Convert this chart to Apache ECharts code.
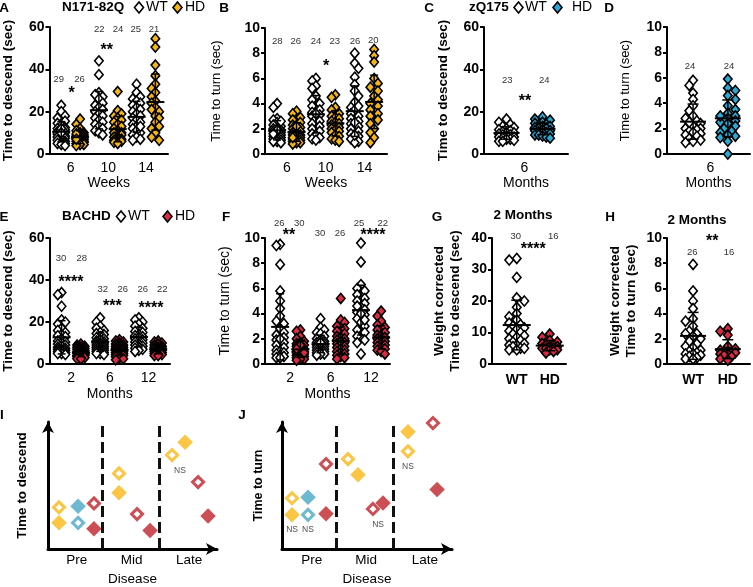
<!DOCTYPE html>
<html><head><meta charset="utf-8">
<script src="https://cdn.jsdelivr.net/npm/echarts@6/dist/echarts.min.js"></script>
<style>html,body{margin:0;padding:0;background:#fff}#c{width:753px;height:587px}</style>
</head><body><div id="c"></div>
<script>
// ---------------- DATA ----------------
// Panel A: N171-82Q, time to descend (sec), weeks 6/10/14
const a_weeks = ['6', '10', '14'];
const a_wt_6  = [23, 20, 18, 17, 15.5, 14.5, 13.5, 12.5, 12, 11.5, 11, 10.5, 10, 9.5, 9, 8.5, 8, 8, 7.5, 7, 6.5, 6, 5.5, 5, 5, 4.5, 4, 12, 10];
const a_hd_6  = [16.5, 14, 12, 11, 10, 10, 9, 9, 8.5, 8, 8, 7.5, 7, 7, 6.5, 6, 6, 5.5, 5.5, 5, 5, 4.5, 4.5, 4, 9.5, 7];
const a_wt_10 = [44, 37.5, 29, 28, 27, 26, 24, 23, 22, 21, 20, 19, 18, 17, 16, 15, 14, 13, 12, 11, 10, 9];
const a_hd_10 = [29.5, 20.5, 19, 18, 17, 16, 15, 14, 13, 12, 11, 10, 10, 9, 9, 8, 8, 7, 7, 6.5, 6, 6, 5.5, 5];
const a_wt_14 = [33, 29, 27, 26, 25, 24, 23, 22, 21, 20, 19, 18, 17, 16, 15, 14, 13, 12, 11, 10, 9, 8, 7, 6.5, 13];
const a_hd_14 = [54.5, 50.5, 42, 37, 33, 31, 29, 27, 25, 24, 22, 21, 20, 18, 17, 15, 13, 12, 10, 8, 6.5];
const a_n = [29, 26, 22, 24, 25, 21];
const a_stars = ['*', '**'];

// Panel B: N171-82Q, time to turn (sec)
const b_wt_6  = [4.0, 3.7, 2.8, 2.7, 2.5, 2.3, 2.2, 2.0, 2.0, 1.9, 1.8, 1.8, 1.7, 1.6, 1.5, 1.5, 1.4, 1.4, 1.3, 1.2, 1.2, 1.1, 1.0, 1.0, 0.9, 2.6, 1.9, 1.6];
const b_hd_6  = [3.4, 3.2, 2.9, 2.7, 2.5, 2.3, 2.1, 2.0, 1.9, 1.8, 1.7, 1.6, 1.5, 1.4, 1.3, 1.2, 1.2, 1.1, 1.0, 1.0, 0.9, 0.9, 0.8, 2.2, 1.5, 1.3];
const b_wt_10 = [6.0, 5.8, 5.4, 5.2, 4.6, 4.3, 4.0, 3.8, 3.5, 3.3, 3.1, 3.0, 2.8, 2.6, 2.4, 2.2, 2.0, 1.8, 1.6, 1.5, 1.3, 1.2, 1.1, 3.2];
const b_hd_10 = [4.7, 4.5, 3.7, 3.5, 3.2, 3.0, 2.9, 2.8, 2.6, 2.5, 2.4, 2.3, 2.2, 2.1, 2.0, 1.9, 1.8, 1.7, 1.5, 1.4, 1.2, 1.1, 1.0];
const b_wt_14 = [8.0, 7.2, 6.8, 6.1, 5.5, 5.0, 4.6, 4.1, 3.7, 3.5, 3.2, 3.0, 2.8, 2.6, 2.4, 2.2, 2.0, 1.8, 1.6, 1.4, 1.2, 1.0, 0.9, 3.8, 2.5, 1.5];
const b_hd_14 = [8.3, 7.8, 7.3, 6.0, 5.6, 5.3, 5.0, 4.6, 4.3, 4.0, 3.8, 3.5, 3.2, 3.0, 2.7, 2.4, 2.0, 1.7, 1.3, 0.9];
const b_n = [28, 26, 24, 23, 26, 20];
const b_stars = ['*'];

// Panel C: zQ175, time to descend, 6 months
const c_months = ['6'];
const c_wt_6 = [16.5, 15, 14, 13, 12.5, 12, 11.5, 11, 10.5, 10, 10, 9.5, 9, 9, 8.5, 8, 8, 7.5, 7, 7, 6.5, 6, 6];
const c_hd_6 = [17.5, 16.5, 16, 15, 14.5, 14, 13.5, 13, 13, 12.5, 12, 12, 11.5, 11, 11, 10.5, 10, 10, 9.5, 9, 9, 8.5, 8, 7.5];
const c_n = [23, 24];
const c_stars = ['**'];

// Panel D: zQ175, time to turn, 6 months
const d_wt_6 = [5.8, 5.4, 4.8, 4.3, 3.8, 3.4, 3.0, 2.8, 2.6, 2.4, 2.2, 2.0, 2.0, 1.9, 1.8, 1.7, 1.6, 1.5, 1.4, 1.2, 1.1, 1.0, 0.9, 2.5];
const d_hd_6 = [5.9, 5.2, 5.0, 4.6, 4.3, 3.8, 3.5, 3.2, 3.0, 2.8, 2.7, 2.6, 2.5, 2.4, 2.2, 2.0, 1.8, 1.7, 1.5, 1.4, 1.3, 1.0, 0.0, 3.0];
const d_n = [24, 24];

// Panel E: BACHD, time to descend, months 2/6/12
const e_months = ['2', '6', '12'];
const e_wt_2  = [34, 33, 27.5, 21, 20, 19, 17, 16, 15, 14, 13.5, 13, 12, 11, 10.5, 10, 9.5, 9, 8.5, 8, 7.5, 7, 7, 6.5, 6, 6, 5.5, 5, 5, 4.5];
const e_hd_2  = [9.5, 9, 8.5, 8, 8, 7.5, 7, 7, 6.5, 6.5, 6, 6, 5.5, 5.5, 5, 5, 5, 4.5, 4.5, 4, 4, 4, 3.5, 3.5, 3, 3, 2.5, 2.5];
const e_wt_6  = [22, 20, 18, 17, 16, 15, 14.5, 14, 13, 12.5, 12, 11.5, 11, 10.5, 10, 10, 9.5, 9, 9, 8.5, 8, 8, 7.5, 7, 7, 6.5, 6, 6, 5.5, 5, 5, 4.5];
const e_hd_6  = [11.5, 11, 10.5, 10, 9.5, 9, 9, 8.5, 8, 8, 7.5, 7, 7, 6.5, 6, 6, 5.5, 5, 5, 4.5, 4, 4, 3.5, 3, 2.5, 2];
const e_wt_12 = [22, 21, 20, 19, 18, 17, 16, 15.5, 15, 14, 13.5, 13, 12.5, 12, 11.5, 11, 10.5, 10, 9.5, 9, 8.5, 8, 7.5, 7, 6.5, 6];
const e_hd_12 = [11, 10.5, 10, 9.5, 9, 8.5, 8, 8, 7.5, 7, 7, 6.5, 6.5, 6, 6, 5.5, 5, 5, 4.5, 4.5, 4, 4];
const e_n = [30, 28, 32, 26, 26, 22];
const e_stars = ['****', '***', '****'];

// Panel F: BACHD, time to turn
const f_wt_2  = [9.5, 9.4, 7.9, 5.8, 5.0, 4.4, 3.8, 3.4, 3.2, 2.8, 2.5, 2.3, 2.1, 1.9, 1.7, 1.5, 1.3, 1.1, 1.0, 0.9, 0.8, 0.7, 0.6, 0.5, 0.5, 2.0];
const f_hd_2  = [2.7, 2.6, 2.2, 2.0, 1.8, 1.7, 1.6, 1.5, 1.4, 1.3, 1.2, 1.1, 1.0, 1.0, 0.9, 0.9, 0.8, 0.8, 0.7, 0.7, 0.6, 0.6, 0.5, 0.5, 0.4, 0.4, 1.5, 1.2, 0.3, 0.9];
const f_wt_6  = [3.6, 2.9, 2.7, 2.5, 2.4, 2.2, 2.0, 1.9, 1.8, 1.7, 1.6, 1.6, 1.5, 1.5, 1.4, 1.4, 1.3, 1.3, 1.2, 1.2, 1.1, 1.1, 1.0, 1.0, 0.9, 0.9, 0.8, 0.8, 0.7, 1.7];
const f_hd_6  = [5.2, 3.5, 3.3, 3.0, 2.8, 2.6, 2.4, 2.2, 2.1, 2.0, 1.9, 1.8, 1.7, 1.6, 1.5, 1.4, 1.3, 1.2, 1.1, 1.0, 0.9, 0.8, 0.7, 0.6, 0.5, 0.4];
const f_wt_12 = [9.6, 8.1, 6.3, 6.0, 5.8, 5.5, 5.2, 5.0, 4.8, 4.5, 4.3, 4.1, 3.9, 3.6, 3.3, 3.0, 2.7, 2.5, 2.2, 1.9, 1.7, 0.8, 4.6, 4.0, 3.5];
const f_hd_12 = [4.2, 3.8, 3.4, 3.1, 2.9, 2.7, 2.5, 2.3, 2.2, 2.1, 2.0, 1.9, 1.8, 1.7, 1.6, 1.5, 1.4, 1.3, 1.2, 1.1, 1.0, 0.8];
const f_n = [26, 30, 30, 26, 25, 22];
const f_stars = ['**', '****'];

// Panel G: weight corrected time to descend, 2 months
const wt_hd = ['WT', 'HD'];
const g_wt = [33.5, 33, 27.5, 21, 20, 18, 16, 15, 14, 13, 12.5, 12, 11.5, 11, 10.5, 10, 9.5, 9, 8.5, 8, 7.5, 7, 6.5, 6, 6, 5.5, 5, 5, 4.5, 4.5];
const g_hd = [9.5, 8.5, 7.5, 7, 6.5, 6, 6, 5.5, 5.5, 5, 5, 5, 4.5, 4.5, 4, 3.5];
const g_n = [30, 16];
const g_stars = ['****'];

// Panel H: weight corrected time to turn, 2 months
const h_wt = [7.9, 5.8, 5.0, 4.4, 3.6, 3.4, 3.0, 2.6, 2.4, 2.2, 2.0, 1.8, 1.6, 1.4, 1.3, 1.1, 1.0, 0.9, 0.8, 0.8, 0.7, 0.6, 0.5, 0.4, 0.4, 2.4];
const h_hd = [2.8, 2.6, 2.3, 1.4, 1.2, 1.1, 1.0, 1.0, 0.9, 0.9, 0.8, 0.8, 0.7, 0.6, 0.4, 0.3];
const h_n = [26, 16];
const h_stars = ['**'];

// Panels I / J: schematic (relative units 0-100)
const stages = ['Pre', 'Mid', 'Late'];
const i_yellow_wt = [[6.5, 32.8], [42, 59.5], [73.4, 74]];
const i_yellow_hd = [[6.5, 20.6], [42, 44.3], [81.1, 84]];
const i_blue_wt   = [[17.8, 20.6]];
const i_blue_hd   = [[17.8, 33.6]];
const i_red_wt    = [[27.2, 35.9], [52.7, 27.5], [88.8, 52.7]];
const i_red_hd    = [[27.2, 16], [60.4, 14.5], [94.7, 26]];
const i_ns        = [[78.1, 61.8]];
const i_dividers  = [32, 65.7];

const j_yellow_wt = [[5.9, 40], [38.8, 70.8], [74.1, 76.9]];
const j_yellow_hd = [[5.9, 26.9], [44.7, 58.5], [74.1, 92.3]];
const j_blue_wt   = [[15.3, 26.9]];
const j_blue_hd   = [[15.3, 40.8]];
const j_red_wt    = [[25.9, 66.9], [53.5, 31.5], [88.8, 99.2]];
const j_red_hd    = [[25.9, 27.7], [59.4, 36.2], [91.2, 46.9]];
const j_ns        = [[5.9, 15.4], [15.3, 15.4], [56.5, 19.2], [74.1, 64.6]];
const j_dividers  = [31.8, 65.3];

// ---------------- STYLE ----------------
const FONT = '"Liberation Sans", Arial, Helvetica, sans-serif';
const WHITE = '#ffffff';
const YEL = '#F6B612', BLU = '#28A9D6', RED = '#DC2A44';
const S_YEL = '#FBB614', S_BLU = '#47A7C5', S_RED = '#C1232C';

const option = {
  animation: false, backgroundColor: '#fff',
  textStyle: { fontFamily: FONT },
  grid: [], xAxis: [], yAxis: [], series: [], graphic: []
};

function mean(a) { return a.reduce((s, v) => s + v, 0) / a.length; }
function sd(a) { const m = mean(a); return Math.sqrt(a.reduce((s, v) => s + (v - m) * (v - m), 0) / (a.length - 1)); }
function labelAt(pairs, v) {
  for (const [p, l] of pairs) if (Math.abs(v - p) < 1e-6) return l;
  return '';
}
// deterministic beeswarm offsets (pixels) so diamonds do not stack exactly
function swarm(values, pxPerUnit, sym, maxOff) {
  const order = values.map((v, i) => i).sort((a, b) => values[b] - values[a]);
  const placed = [];
  const offs = new Array(values.length).fill(0);
  const step = sym * 0.42;
  let flip = 1;
  for (const i of order) {
    const y = values[i] * pxPerUnit;
    const cands = [0];
    for (let k = 1; k * step <= maxOff + 1e-6; k++) { cands.push(flip * k * step, -flip * k * step); }
    let best = null, bestScore = -1;
    for (const c of cands) {
      let dmin = Infinity;
      for (const p of placed) dmin = Math.min(dmin, Math.hypot(p.x - c, p.y - y));
      if (dmin >= sym * 0.62) { best = c; break; }
      if (dmin > bestScore) { bestScore = dmin; best = c; }
    }
    flip = -flip;
    offs[i] = best;
    placed.push({ x: best, y });
  }
  return offs;
}

function txt(x, y, text, size, weight, color, align) {
  return { type: 'text', x, y, silent: true, z: 100,
    style: { text, fontSize: size, fontWeight: weight || 'normal', fontFamily: FONT,
      fill: color || '#000', align: align || 'center', verticalAlign: 'middle' } };
}
function diamond(x, y, fill) {
  return { type: 'polygon', silent: true, z: 100,
    shape: { points: [[x, y - 5.5], [x + 4.5, y], [x, y + 5.5], [x - 4.5, y]] },
    style: { fill, stroke: '#000', lineWidth: 1.6 } };
}

function addDotPanel(p) {
  const gi = option.grid.length;
  option.grid.push({ left: p.left, top: p.top, width: p.width, height: p.height });
  const xMax = p.xMin + p.width / p.unit;
  option.xAxis.push({
    type: 'value', gridIndex: gi, min: p.xMin, max: xMax, interval: 0.125,
    axisLine: { show: true, onZero: false, lineStyle: { color: '#000', width: 2 } },
    axisTick: { show: false }, splitLine: { show: false },
    axisLabel: { show: true, margin: p.xLabelMargin, fontSize: 14, fontWeight: p.xLabelBold ? 'bold' : 'normal',
      color: '#000', fontFamily: FONT, formatter: v => labelAt(p.xLabels, v) },
    name: p.xName || '', nameLocation: 'middle', nameGap: p.xNameGap || 22,
    nameTextStyle: { fontSize: 14, color: '#000', fontFamily: FONT }
  });
  option.yAxis.push({
    type: 'value', gridIndex: gi, min: 0, max: p.yMax, interval: p.yInt,
    axisLine: { show: true, onZero: false, lineStyle: { color: '#000', width: 2 } },
    axisTick: { show: true, length: 4, lineStyle: { color: '#000', width: 2 } },
    splitLine: { show: false },
    axisLabel: { margin: 5, fontSize: 14, fontWeight: 'bold', color: '#000', fontFamily: FONT },
    name: p.yName, nameLocation: 'middle', nameGap: p.yNameGap,
    nameTextStyle: { fontSize: p.yNameSize, fontWeight: p.yNameBold ? 'bold' : 'normal', color: '#000',
      fontFamily: FONT, lineHeight: p.yNameLH || p.yNameSize + 2 }
  });
  const pxPerUnit = p.height / p.yMax;
  p.groups.forEach((vals, k) => {
    const offs = swarm(vals, pxPerUnit, 9, p.maxOff);
    option.series.push({
      type: 'scatter', xAxisIndex: gi, yAxisIndex: gi, symbol: 'diamond', symbolSize: [8.5, 10],
      clip: false, silent: true, z: 2,
      itemStyle: { color: p.fills[k], borderColor: '#000', borderWidth: 1.6, opacity: 1 },
      data: vals.map((v, i) => ({ value: [k, v], symbolOffset: [offs[i], 0] }))
    });
  });
  const mh = p.meanHalf, ch = p.capHalf;
  option.series.push({
    type: 'custom', xAxisIndex: gi, yAxisIndex: gi, z: 5, silent: true, clip: false,
    data: p.groups.map((vals, k) => [k, mean(vals), sd(vals)]),
    renderItem: function (params, api) {
      const x = api.value(0), m = api.value(1), s = api.value(2);
      const c = api.coord([x, m]), t = api.coord([x, m + s]), b = api.coord([x, m - s]);
      const ln = (x1, y1, x2, y2, w) => ({ type: 'line', shape: { x1, y1, x2, y2 }, style: { stroke: '#000', lineWidth: w } });
      return { type: 'group', children: [
        ln(c[0] - mh, c[1], c[0] + mh, c[1], 2),
        ln(t[0], t[1], b[0], b[1], 1.5),
        ln(t[0] - ch, t[1], t[0] + ch, t[1], 1.5),
        ln(b[0] - ch, b[1], b[0] + ch, b[1], 1.5)
      ] };
    }
  });
}

function addSchematic(p) {
  const gi = option.grid.length;
  option.grid.push({ left: p.left, top: p.top, width: p.width, height: p.height });
  const axLine = { show: true, onZero: false, symbol: ['none', 'arrow'], symbolSize: [9, 11], lineStyle: { color: '#000', width: 3 } };
  option.xAxis.push({
    type: 'value', gridIndex: gi, min: 0, max: 100, interval: 0.5,
    axisLine: axLine, axisTick: { show: false }, splitLine: { show: false },
    axisLabel: { margin: 4, fontSize: 13.5, color: '#000', fontFamily: FONT, formatter: v => labelAt(p.stageLabels, v) },
    name: 'Disease', nameLocation: 'middle', nameGap: 23,
    nameTextStyle: { fontSize: 13.5, color: '#000', fontFamily: FONT }
  });
  option.yAxis.push({
    type: 'value', gridIndex: gi, min: 0, max: 100,
    axisLine: axLine, axisTick: { show: false }, splitLine: { show: false }, axisLabel: { show: false },
    name: p.yName, nameLocation: 'middle', nameGap: p.yNameGap,
    nameTextStyle: { fontSize: p.yNameSize, fontWeight: 'bold', color: '#000', fontFamily: FONT }
  });
  p.sets.forEach((s, k) => {
    const ser = {
      type: 'scatter', xAxisIndex: gi, yAxisIndex: gi, symbol: 'diamond', clip: false, silent: true, z: 3,
      symbolSize: s.hollow ? 11 : 15.5,
      itemStyle: s.hollow ? { color: '#fff', borderColor: s.color, borderWidth: 3 } : { color: s.color, borderWidth: 0 },
      data: s.data
    };
    if (k === 0) {
      ser.markLine = { silent: true, symbol: ['none', 'none'], label: { show: false },
        lineStyle: { color: '#111', width: 3, type: [11, 5] },
        data: p.dividers.map(x => ({ xAxis: x })) };
    }
    option.series.push(ser);
  });
  option.series.push({
    type: 'scatter', xAxisIndex: gi, yAxisIndex: gi, symbolSize: 0, clip: false, silent: true, z: 4,
    label: { show: true, position: 'inside', formatter: 'NS', fontSize: 8.5, color: '#222', fontFamily: FONT },
    data: p.ns
  });
}

// ---------------- PANELS ----------------
const pair = (cats) => cats.map((c, i) => [2 * i + 0.5, c]);

addDotPanel({ left: 49, top: 27, width: 119, height: 127, unit: 18.9, xMin: -0.625, yMax: 60, yInt: 20,
  groups: [a_wt_6, a_hd_6, a_wt_10, a_hd_10, a_wt_14, a_hd_14], fills: [WHITE, YEL, WHITE, YEL, WHITE, YEL],
  xLabels: pair(a_weeks), xLabelMargin: 7, xName: 'Weeks', xNameGap: 22,
  yName: 'Time to descend (sec)', yNameGap: 33, yNameSize: 13.5, yNameBold: true, maxOff: 6, meanHalf: 9, capHalf: 4 });
addDotPanel({ left: 265, top: 28, width: 122, height: 126, unit: 19.4, xMin: -0.625, yMax: 10, yInt: 2,
  groups: [b_wt_6, b_hd_6, b_wt_10, b_hd_10, b_wt_14, b_hd_14], fills: [WHITE, YEL, WHITE, YEL, WHITE, YEL],
  xLabels: pair(a_weeks), xLabelMargin: 7, xName: 'Weeks', xNameGap: 22,
  yName: 'Time to turn (sec)', yNameGap: 41, yNameSize: 13, yNameBold: false, maxOff: 6, meanHalf: 9, capHalf: 4 });
addDotPanel({ left: 484, top: 27, width: 84, height: 127, unit: 36, xMin: -0.625, yMax: 60, yInt: 20,
  groups: [c_wt_6, c_hd_6], fills: [WHITE, BLU],
  xLabels: pair(c_months), xLabelMargin: 7, xName: 'Months', xNameGap: 22,
  yName: 'Time to descend (sec)', yNameGap: 33, yNameSize: 13.5, yNameBold: true, maxOff: 10, meanHalf: 13, capHalf: 5.5 });
addDotPanel({ left: 667, top: 27, width: 86, height: 127, unit: 36, xMin: -0.75, yMax: 10, yInt: 2,
  groups: [d_wt_6, d_hd_6], fills: [WHITE, BLU],
  xLabels: pair(c_months), xLabelMargin: 7, xName: 'Months', xNameGap: 22,
  yName: 'Time to turn (sec)', yNameGap: 34, yNameSize: 13, yNameBold: false, maxOff: 9, meanHalf: 13, capHalf: 5.5 });
addDotPanel({ left: 49, top: 238, width: 121, height: 126, unit: 19.4, xMin: -0.625, yMax: 60, yInt: 20,
  groups: [e_wt_2, e_hd_2, e_wt_6, e_hd_6, e_wt_12, e_hd_12], fills: [WHITE, RED, WHITE, RED, WHITE, RED],
  xLabels: pair(e_months), xLabelMargin: 7, xName: 'Months', xNameGap: 23,
  yName: 'Time to descend (sec)', yNameGap: 33, yNameSize: 13.5, yNameBold: true, maxOff: 6, meanHalf: 9, capHalf: 4 });
addDotPanel({ left: 265, top: 238, width: 125, height: 126, unit: 20.2, xMin: -0.75, yMax: 10, yInt: 2,
  groups: [f_wt_2, f_hd_2, f_wt_6, f_hd_6, f_wt_12, f_hd_12], fills: [WHITE, RED, WHITE, RED, WHITE, RED],
  xLabels: pair(e_months), xLabelMargin: 7, xName: 'Months', xNameGap: 23,
  yName: 'Time to turn (sec)', yNameGap: 32, yNameSize: 14, yNameBold: false, maxOff: 6, meanHalf: 9, capHalf: 4 });
addDotPanel({ left: 492, top: 238, width: 74, height: 126, unit: 33, xMin: -0.75, yMax: 40, yInt: 10,
  groups: [g_wt, g_hd], fills: [WHITE, RED],
  xLabels: wt_hd.map((c, i) => [i, c]), xLabelMargin: 9, xLabelBold: true,
  yName: 'Weight corrected\nTime to descend (sec)', yNameGap: 28, yNameSize: 13.5, yNameBold: true, yNameLH: 16.5,
  maxOff: 9, meanHalf: 14, capHalf: 5.5 });
addDotPanel({ left: 667, top: 238, width: 86, height: 126, unit: 36, xMin: -0.75, yMax: 10, yInt: 2,
  groups: [h_wt, h_hd], fills: [WHITE, RED],
  xLabels: wt_hd.map((c, i) => [i, c]), xLabelMargin: 9, xLabelBold: true,
  yName: 'Weight corrected\nTime to turn (sec)', yNameGap: 27, yNameSize: 13.5, yNameBold: true, yNameLH: 16.5,
  maxOff: 9, meanHalf: 13, capHalf: 5.5 });

addSchematic({ left: 48, top: 422, width: 169, height: 131, yName: 'Time to descend', yNameGap: 19, yNameSize: 13.5,
  stageLabels: [[17, stages[0]], [49.5, stages[1]], [83.5, stages[2]]], dividers: i_dividers, ns: i_ns,
  sets: [
    { data: i_yellow_wt, color: S_YEL, hollow: true }, { data: i_yellow_hd, color: S_YEL, hollow: false },
    { data: i_blue_wt, color: S_BLU, hollow: true }, { data: i_blue_hd, color: S_BLU, hollow: false },
    { data: i_red_wt, color: S_RED, hollow: true }, { data: i_red_hd, color: S_RED, hollow: false }
  ] });
addSchematic({ left: 282, top: 422, width: 170, height: 130, yName: 'Time to turn', yNameGap: 17, yNameSize: 12.5,
  stageLabels: [[17.5, stages[0]], [49.5, stages[1]], [84, stages[2]]], dividers: j_dividers, ns: j_ns,
  sets: [
    { data: j_yellow_wt, color: S_YEL, hollow: true }, { data: j_yellow_hd, color: S_YEL, hollow: false },
    { data: j_blue_wt, color: S_BLU, hollow: true }, { data: j_blue_hd, color: S_BLU, hollow: false },
    { data: j_red_wt, color: S_RED, hollow: true }, { data: j_red_hd, color: S_RED, hollow: false }
  ] });

// ---------------- ANNOTATIONS ----------------
const G = option.graphic;
// panel letters
[['A', 4, 8], ['B', 224, 8], ['C', 429, 8], ['D', 609, 8], ['E', 4, 217], ['F', 226, 217],
 ['G', 437, 217], ['H', 610, 217], ['I', 2, 415], ['J', 242, 415]]
  .forEach(([l, x, y]) => G.push(txt(x, y, l, 13.5, 'bold')));
// titles + legends
G.push(txt(62, 7.5, 'N171-82Q', 13.5, 'bold', '#000', 'left'), diamond(139, 7.5, WHITE), txt(146, 7.5, 'WT', 14, 'normal', '#000', 'left'),
       diamond(177.5, 7.5, YEL), txt(185, 7.5, 'HD', 14, 'normal', '#000', 'left'));
G.push(txt(469, 7.5, 'zQ175', 13.5, 'bold', '#000', 'left'), diamond(518.5, 7.5, WHITE), txt(525, 7.5, 'WT', 14, 'normal', '#000', 'left'),
       diamond(557.5, 7.5, BLU), txt(572, 7.5, 'HD', 14, 'normal', '#000', 'left'));
G.push(txt(62, 216.5, 'BACHD', 13.5, 'bold', '#000', 'left'), diamond(121, 216.5, WHITE), txt(128, 216.5, 'WT', 14, 'normal', '#000', 'left'),
       diamond(167.5, 216.5, RED), txt(175, 216.5, 'HD', 14, 'normal', '#000', 'left'));
G.push(txt(523, 215, '2 Months', 13.5, 'bold'), txt(697, 220.5, '2 Months', 13.5, 'bold'));
// n labels
const nPos = [
  [a_n, [[58.7, 79], [79.5, 79], [99.2, 29], [118, 29], [135.7, 29], [154, 29]]],
  [b_n, [[277.3, 41], [295.7, 41], [316, 41], [334.7, 41], [355, 41], [373.3, 40]]],
  [c_n, [[507.3, 80.7], [544.3, 80.7]]],
  [d_n, [[690, 66], [729, 66]]],
  [e_n, [[61, 258.3], [81.7, 258.3], [102.7, 289], [122.7, 289], [142.7, 289], [162.3, 289]]],
  [f_n, [[279.3, 223.3], [299.3, 223.3], [320, 233.3], [340, 233.3], [359, 223.3], [382.7, 223]]],
  [g_n, [[515.7, 236.7], [553.3, 236.7]]],
  [h_n, [[692.3, 252.3], [729, 252.3]]]
];
nPos.forEach(([ns, pos]) => ns.forEach((n, i) => G.push(txt(pos[i][0], pos[i][1], String(n), 9.5, 'normal', '#333'))));
// significance stars (visual center; asterisks sit high in the glyph box)
const starPos = [
  [a_stars, [[71.7, 90], [106.7, 46.7]]],
  [b_stars, [[326, 63.3]]],
  [c_stars, [[525, 98.3]]],
  [e_stars, [[71, 279.3], [112.3, 302.7], [151, 305]]],
  [f_stars, [[289, 231.7], [373, 231.7]]],
  [g_stars, [[533.3, 246]]],
  [h_stars, [[712.3, 238.3]]]
];
starPos.forEach(([ss, pos]) => ss.forEach((s, i) => G.push(txt(pos[i][0], pos[i][1] + 3.5, s, 16, 'bold', '#000'))));

const chart = echarts.init(document.getElementById('c'), null, { renderer: 'canvas', width: 753, height: 587 });
chart.setOption(option);
</script></body></html>
